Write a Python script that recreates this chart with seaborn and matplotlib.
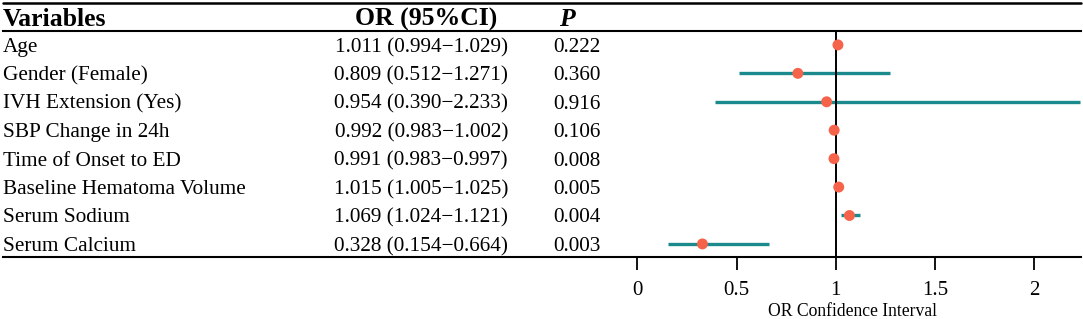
import matplotlib
matplotlib.use("Agg")
import matplotlib.pyplot as plt
import matplotlib.transforms as mtransforms
from matplotlib.lines import Line2D
import seaborn as sns
import pandas as pd

variables = ["Age", "Gender (Female)", "IVH Extension (Yes)", "SBP Change in 24h",
             "Time of Onset to ED", "Baseline Hematoma Volume", "Serum Sodium", "Serum Calcium"]
odds = [1.011, 0.809, 0.954, 0.992, 0.991, 1.015, 1.069, 0.328]
lower = [0.994, 0.512, 0.390, 0.983, 0.983, 1.005, 1.024, 0.154]
upper = [1.029, 1.271, 2.233, 1.002, 0.997, 1.025, 1.121, 0.664]
pvals = ["0.222", "0.360", "0.916", "0.106", "0.008", "0.005", "0.004", "0.003"]
xticks = [0, 0.5, 1, 1.5, 2]
xticklabels = ["0", "0.5", "1", "1.5", "2"]

df = pd.DataFrame({"var": variables, "or": odds, "lo": lower, "hi": upper,
                   "row": range(len(variables))})

sns.set_theme(style="white")
plt.rcParams["font.family"] = ["Liberation Serif", "DejaVu Serif"]
plt.rcParams["text.color"] = "black"
plt.rcParams["axes.labelcolor"] = "black"
plt.rcParams["xtick.color"] = "black"
plt.rcParams["xtick.labelcolor"] = "black"

W, H = 1083, 319
fig = plt.figure(figsize=(W / 100, H / 100), dpi=100)
ax_l, ax_r = 3 / W, 1081 / W
ax_top, ax_bot = 31, 257
ax = fig.add_axes([ax_l, (H - ax_bot) / H, ax_r - ax_l, (ax_bot - ax_top) / H])

line_col = "#1b8a8c"
pt_col = "#f5634a"

ax.hlines(df["row"], df["lo"], df["hi"], color=line_col, lw=2.4, zorder=2)
ax.axvline(1, color="black", lw=1.4, zorder=3)
sns.scatterplot(data=df, x="or", y="row", ax=ax, color=pt_col, s=62,
                edgecolor="none", zorder=4, legend=False)

ax.set_xlim(-3.197, 2.236)
ax.set_ylim(7.46, -0.49)
ax.set_xticks(xticks)
ax.set_xticklabels(xticklabels)
ax.set_yticks([])
ax.set_ylabel("")
ax.set_xlabel("OR Confidence Interval", fontsize=12.7, color="black")
ax.xaxis.set_label_coords((852 - 3) / (1081 - 3), (257 - 312) / (257 - 31))
ax.xaxis.label.set_va("center")
ax.tick_params(axis="x", direction="out", length=9, width=1.3, color="black",
               pad=8, bottom=True, labelsize=15, labelcolor="black")
for s in ["left", "right"]:
    ax.spines[s].set_visible(False)
ax.spines["bottom"].set_linewidth(1.5)
ax.spines["top"].set_linewidth(1.5)
ax.spines["bottom"].set_color("black")
ax.spines["top"].set_color("black")

# top rule
fig.add_artist(Line2D([3 / W, 1081 / W], [(H - 2.5) / H, (H - 2.5) / H],
                      color="black", lw=1.8, transform=fig.transFigure))

trans = mtransforms.blended_transform_factory(fig.transFigure, ax.transData)
hy = (H - 17) / H
fs = 15.3
fig.text(3 / W, hy, "Variables", fontsize=18.5, fontweight="bold", va="center_baseline", ha="left")
fig.text(497 / W, hy, "OR (95%CI)", fontsize=18.5, fontweight="bold", va="center_baseline", ha="right")
fig.text(567 / W, hy, "P", fontsize=18.5, fontweight="bold", style="italic", va="center_baseline", ha="center")
for i, r in df.iterrows():
    ax.text(3 / W, r["row"], r["var"], transform=trans, fontsize=fs, va="center_baseline", ha="left")
    ax.text(508 / W, r["row"], f"{r['or']:.3f} ({r['lo']:.3f}\u2212{r['hi']:.3f})",
            transform=trans, fontsize=fs, va="center_baseline", ha="right")
    ax.text(553 / W, r["row"], pvals[i], transform=trans, fontsize=fs, va="center_baseline", ha="left")

fig.savefig("out.png", dpi=100)
